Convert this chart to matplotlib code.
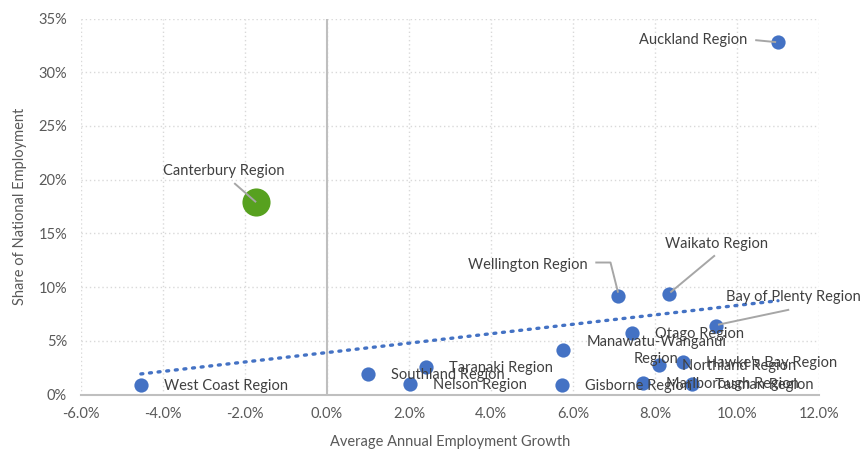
import numpy as np
import matplotlib
matplotlib.use("Agg")
import matplotlib.pyplot as plt
from matplotlib.ticker import FuncFormatter

plt.rcParams['font.family'] = ['Lato', 'DejaVu Sans']

regions = ["Auckland Region", "Canterbury Region", "Wellington Region", "Waikato Region",
           "Bay of Plenty Region", "Otago Region", "Manawatu-Wanganui\nRegion",
           "Hawke's Bay Region", "Northland Region", "Marlborough Region", "Tasman Region",
           "Gisborne Region", "Nelson Region", "Southland Region", "Taranaki Region",
           "West Coast Region"]
growth = [11.0, -1.73, 7.10, 8.35, 9.49, 7.44, 5.76, 8.69, 8.10, 7.71, 8.91,
          5.74, 2.03, 1.0, 2.42, -4.54]
share = [32.8, 17.9, 9.2, 9.4, 6.4, 5.76, 4.18, 3.06, 2.7, 1.1, 1.0,
         0.84, 1.02, 1.95, 2.6, 0.93]
highlight = "Canterbury Region"

x_ticks = list(range(-6, 13, 2))
y_ticks = list(range(0, 36, 5))

BLUE = "#4472C4"
GREEN = "#57A11F"
GREY_TXT = "#595959"
LABEL_TXT = "#404040"
LEADER = "#A6A6A6"

fig = plt.figure(figsize=(8.63, 4.51), dpi=100)
ax = fig.add_axes([81/863, 1-394.5/451, (819-81)/863, (394.5-18.5)/451])

px = 0.72  # points per pixel

# trendline (linear fit over all points)
gx = np.array(growth); gy = np.array(share)
coef = np.polyfit(gx, gy, 1)
tx = np.array([gx.min(), gx.max()])
ax.plot(tx, np.polyval(coef, tx), color=BLUE, lw=2.4, linestyle=(0, (0.6, 2.0)),
        dash_capstyle='round', zorder=3)

# points
for name, x, y in zip(regions, growth, share):
    if name == highlight:
        ax.scatter([x], [y], s=410, color=GREEN, zorder=4, linewidths=0)
    else:
        ax.scatter([x], [y], s=105, color=BLUE, zorder=4, linewidths=0)

# labels
special = {
    "Auckland Region": dict(off=(-31, 2), ha='right', leader=[(-24, 2), (-2, 0)]),
    "Canterbury Region": dict(off=(-32, 31), ha='center', leader=[(-23, 19), (0, 0)]),
    "Wellington Region": dict(off=(-30, 31), ha='right', leader=[(-24, 33), (-8, 33), (0, 3)]),
    "Waikato Region": dict(off=(47, 50), ha='center', leader=[(48, 38), (1, 1)]),
    "Bay of Plenty Region": dict(off=(77, 29), ha='center', leader=[(77, 16), (2, 1)]),
}
fs = 10.5
for name, x, y in zip(regions, growth, share):
    if name in special:
        d = special[name]
        ax.annotate(name, (x, y), xytext=(d['off'][0]*px, d['off'][1]*px),
                    textcoords='offset points', ha=d['ha'], va='center',
                    fontsize=fs, color=LABEL_TXT, zorder=5)
        pts = d['leader']
        base = ax.transData.transform((x, y))
        disp = [(base[0] + p[0], base[1] + p[1]) for p in pts]
        data = ax.transData.inverted().transform(disp)
        ax.plot(data[:, 0], data[:, 1], color=LEADER, lw=1.4, zorder=5,
                solid_capstyle='butt')
    else:
        ax.annotate(name, (x, y), xytext=(23*px, -1*px), textcoords='offset points',
                    ha='left', va='center', multialignment='center',
                    fontsize=fs, color=LABEL_TXT, zorder=5, linespacing=1.2)

ax.set_xlim(-6, 12)
ax.set_ylim(0, 35)
ax.set_xticks(x_ticks)
ax.set_yticks(y_ticks)
ax.xaxis.set_major_formatter(FuncFormatter(lambda v, p: f"{v:.1f}%"))
ax.yaxis.set_major_formatter(FuncFormatter(lambda v, p: f"{v:.0f}%"))
ax.tick_params(length=0, labelsize=10.5, colors=GREY_TXT)
ax.tick_params(axis='y', pad=10)
ax.tick_params(axis='x', pad=9)

ax.grid(True, color="#D9D9D9", linestyle=(0, (1, 2)), lw=1)
ax.set_axisbelow(True)
for s in ['top', 'right', 'left']:
    ax.spines[s].set_visible(False)
ax.spines['bottom'].set_color("#BFBFBF")
ax.spines['bottom'].set_linewidth(1.5)
ax.axvline(0, color="#BFBFBF", lw=1.5, zorder=2)

ax.set_xlabel("Average Annual Employment Growth", fontsize=10.5, color=GREY_TXT, labelpad=10)
ax.set_ylabel("Share of National Employment", fontsize=10.5, color=GREY_TXT, labelpad=8)

fig.savefig("out.png", dpi=100)
